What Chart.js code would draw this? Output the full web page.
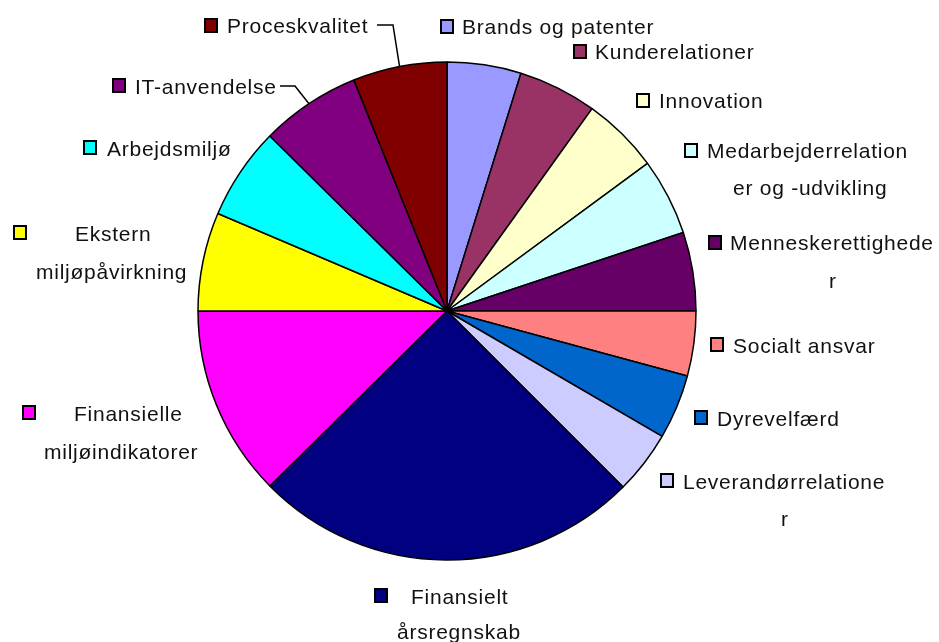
<!DOCTYPE html>
<html>
<head>
<meta charset="utf-8">
<script src="https://cdn.jsdelivr.net/npm/chart.js@4"></script>
<style>
  html, body { margin: 0; padding: 0; background: #fff; }
  #wrap { width: 939px; height: 642px; }
</style>
</head>
<body>
<div id="wrap"><canvas id="myChart" width="939" height="642"></canvas></div>
<script>
const categories = [
  "Brands og patenter",
  "Kunderelationer",
  "Innovation",
  "Medarbejderrelationer og -udvikling",
  "Menneskerettigheder",
  "Socialt ansvar",
  "Dyrevelfærd",
  "Leverandørrelationer",
  "Finansielt årsregnskab",
  "Finansielle miljøindikatorer",
  "Ekstern miljøpåvirkning",
  "Arbejdsmiljø",
  "IT-anvendelse",
  "Proceskvalitet",
];
const values = [4.8, 5.1, 5.0, 5.0, 5.1, 4.2, 4.2, 4.1, 25.1, 12.4, 6.4, 6.0, 6.5, 6.1];
const sliceColors = [
  "#9999ff",
  "#993366",
  "#ffffcc",
  "#ccffff",
  "#660066",
  "#ff8080",
  "#0066cc",
  "#ccccff",
  "#000080",
  "#ff00ff",
  "#ffff00",
  "#00ffff",
  "#800080",
  "#800000",
];

// label placement: legend key box, then text lines (left x, middle y)
const labelLayout = [
  { box: [440, 19], lines: [["Brands og patenter", 462, 26]] },
  { box: [573, 44], lines: [["Kunderelationer", 595, 51]] },
  { box: [636, 93], lines: [["Innovation", 659, 100]] },
  { box: [684, 143], lines: [["Medarbejderrelation", 707, 150], ["er og -udvikling", 733, 187]] },
  { box: [708, 235], lines: [["Menneskerettighede", 730, 242], ["r", 829, 280]] },
  { box: [710, 337], lines: [["Socialt ansvar", 733, 345]] },
  { box: [694, 410], lines: [["Dyrevelfærd", 717, 418]] },
  { box: [660, 473], lines: [["Leverandørrelatione", 683, 481], ["r", 781, 518]] },
  { box: [374, 588], lines: [["Finansielt", 411, 596], ["årsregnskab", 397, 631]] },
  { box: [22, 405], lines: [["Finansielle", 74, 413], ["miljøindikatorer", 44, 451]] },
  { box: [13, 225], lines: [["Ekstern", 75, 233], ["miljøpåvirkning", 36, 271]] },
  { box: [83, 140], lines: [["Arbejdsmiljø", 107, 148]] },
  { box: [112, 78], lines: [["IT-anvendelse", 135, 86]], leader: [[280, 86], [295, 86]] },
  { box: [204, 18], lines: [["Proceskvalitet", 227, 25]], leader: [[377, 25], [393, 25]] },
];

const pieLabels = {
  id: "pieLabels",
  afterDraw(chart) {
    const ctx = chart.ctx;
    const arcs = chart.getDatasetMeta(0).data;
    ctx.save();
    ctx.font = '21px "Liberation Sans"';
    ctx.letterSpacing = "0.75px";
    ctx.textBaseline = "alphabetic";
    ctx.textAlign = "left";
    labelLayout.forEach((lab, i) => {
      const [bx, by] = lab.box;
      ctx.fillStyle = sliceColors[i];
      ctx.fillRect(bx, by, 14, 15);
      ctx.strokeStyle = "#000";
      ctx.lineWidth = 2;
      ctx.strokeRect(bx + 1, by + 1, 12, 13);
      ctx.fillStyle = "#111";
      lab.lines.forEach(([t, x, y]) => ctx.fillText(t, x, y + 7.5));
      if (lab.leader) {
        // leader runs to the middle of the slice's outer edge
        const a = arcs[i];
        const mid = (a.startAngle + a.endAngle) / 2;
        const ex = a.x + Math.cos(mid) * a.outerRadius;
        const ey = a.y + Math.sin(mid) * a.outerRadius;
        ctx.beginPath();
        ctx.lineWidth = 1.5;
        ctx.moveTo(lab.leader[0][0], lab.leader[0][1]);
        ctx.lineTo(lab.leader[1][0], lab.leader[1][1]);
        ctx.lineTo(ex, ey);
        ctx.stroke();
      }
    });
    ctx.restore();
  },
};

new Chart("myChart", {
  type: "pie",
  data: {
    labels: categories,
    datasets: [
      {
        data: values,
        backgroundColor: sliceColors,
        borderColor: "#000",
        borderWidth: 1.5,
        hoverOffset: 0,
      },
    ],
  },
  options: {
    responsive: false,
    animation: false,
    radius: 249,
    layout: { padding: { left: 0, right: 45, top: 0, bottom: 20 } },
    plugins: {
      legend: { display: false },
      tooltip: { enabled: false },
    },
  },
  plugins: [pieLabels],
});
</script>
</body>
</html>
